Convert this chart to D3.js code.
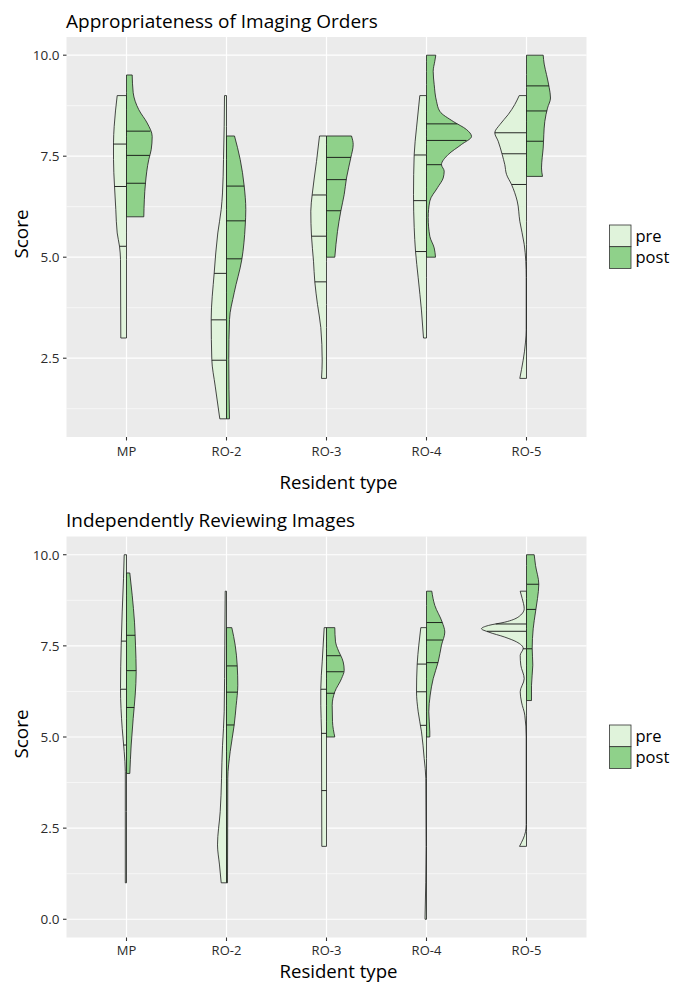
<!DOCTYPE html>
<html><head><meta charset="utf-8">
<script src="https://cdn.jsdelivr.net/npm/d3@7"></script>
<style>body{margin:0;background:#fff}svg{display:block}</style>
</head><body>
<svg id="chart" width="677" height="982"></svg>
<script>
// ---------------- DATA ----------------
const categories = ["MP", "RO-2", "RO-3", "RO-4", "RO-5"];
const groups = ["pre", "post"];
const panelTitles = ["Appropriateness of Imaging Orders", "Independently Reviewing Images"];
const xAxisTitle = "Resident type";
const yAxisTitle = "Score";
const yTicksOrders = [2.5, 5.0, 7.5, 10.0];
const yTicksReviewing = [0.0, 2.5, 5.0, 7.5, 10.0];
const yMinorTicks = [1.25, 3.75, 6.25, 8.75];

// violin half-profiles: [score, half-width as fraction of category spacing], one list per category
const ordersPre = [
  [[9.0,.093],[8.24,.123],[7.83,.13],[7.42,.13],[6.76,.12],[6.18,.107],[5.6,.093],[5.27,.07],[4.94,.06],[3.0,.057]],
  [[9.0,.02],[8.24,.023],[7.42,.03],[6.59,.04],[6.18,.053],[5.6,.087],[4.61,.123],[3.46,.153],[2.47,.147],[1.81,.113],[1.0,.067]],
  [[8.0,.07],[7.37,.10],[6.55,.143],[6.14,.157],[5.52,.15],[4.9,.13],[4.39,.117],[3.83,.09],[3.26,.057],[2.43,.043],[2.0,.05]],
  [[9.0,.067],[8.2,.10],[7.54,.123],[6.55,.13],[5.73,.123],[5.15,.11],[4.49,.083],[3.67,.05],[3.0,.03]],
  [[9.0,.073],[8.78,.117],[8.53,.183],[8.28,.267],[8.08,.317],[7.87,.283],[7.54,.243],[7.29,.217],[7.05,.20],[6.8,.15],[6.39,.093],[5.89,.067],[5.32,.023],[4.9,.007],[4.5,.003],[3.2,.003],[2.9,.01],[2.0,.067]]
];
const ordersPost = [
  [[9.51,.057],[9.07,.067],[8.65,.123],[8.32,.207],[7.99,.257],[7.66,.247],[7.42,.223],[6.84,.19],[6.0,.173]],
  [[8.0,.08],[7.42,.137],[6.76,.177],[6.18,.193],[5.77,.187],[4.94,.153],[4.12,.077],[3.46,.03],[2.47,.023],[1.0,.03]],
  [[8.0,.25],[7.79,.267],[7.46,.243],[6.96,.20],[6.55,.177],[6.14,.143],[5.64,.11],[5.0,.083]],
  [[10.0,.093],[9.85,.083],[9.6,.067],[9.27,.077],[8.86,.10],[8.61,.133],[8.36,.267],[8.16,.40],[7.99,.45],[7.79,.35],[7.54,.217],[7.29,.15],[7.13,.177],[6.96,.167],[6.72,.11],[6.39,.033],[5.98,.017],[5.52,.033],[5.23,.077],[5.0,.09]],
  [[10.0,.167],[9.78,.177],[9.52,.20],[9.2,.227],[8.94,.24],[8.69,.21],[8.36,.183],[8.03,.173],[7.7,.167],[7.46,.157],[7.21,.15],[7.0,.16]]
];
const ordersPreQuantiles = [[7.8,6.75,5.27],[4.6,3.45,2.45],[6.54,5.52,4.39],[7.53,6.4,5.14],[8.08,7.56,6.8]];
const ordersPostQuantiles = [[8.12,7.52,6.83],[6.76,5.9,4.96],[7.47,6.92,6.15],[8.3,7.89,7.29],[9.24,8.62,7.87]];

const reviewingPre = [
  [[10.0,.023],[9.34,.03],[8.43,.043],[7.52,.053],[6.33,.06],[5.24,.043],[4.6,.023],[4.05,.012],[2.95,.012],[1.0,.012]],
  [[9.0,.013],[7.52,.017],[5.69,.023],[4.76,.04],[2.95,.063],[2.04,.09],[1.49,.07],[1.0,.053]],
  [[8.0,.023],[7.06,.043],[6.33,.057],[5.87,.057],[5.14,.05],[2.0,.047]],
  [[8.0,.057],[7.52,.077],[7.0,.093],[6.24,.10],[5.69,.083],[5.14,.05],[4.41,.023],[3.87,.007],[2.0,.004],[0.0,.015]],
  [[9.0,.063],[8.8,.043],[8.52,.023],[8.29,.083],[8.15,.217],[8.06,.38],[7.97,.45],[7.88,.38],[7.74,.217],[7.61,.10],[7.43,.033],[7.24,.063],[6.97,.057],[6.6,.023],[6.24,.063],[5.96,.05],[5.6,.017],[5.0,.003],[2.6,.003],[2.4,.01],[2.0,.07]]
];
const reviewingPost = [
  [[9.5,.033],[8.89,.057],[8.15,.08],[7.52,.09],[6.79,.097],[6.15,.087],[5.51,.067],[4.78,.047],[4.0,.033]],
  [[8.0,.053],[7.52,.087],[6.97,.107],[6.42,.113],[5.87,.097],[5.33,.077],[4.6,.037],[3.87,.013],[1.0,.01]],
  [[8.0,.083],[7.61,.09],[7.43,.11],[7.06,.167],[6.83,.177],[6.6,.15],[6.24,.083],[5.87,.057],[5.42,.06],[5.0,.083]],
  [[9.0,.053],[8.61,.083],[8.15,.157],[7.88,.183],[7.52,.15],[7.06,.117],[6.6,.067],[6.15,.037],[5.69,.023],[5.14,.033],[5.0,.033]],
  [[10.0,.077],[9.71,.09],[9.19,.123],[8.8,.11],[8.43,.09],[7.97,.067],[7.43,.057],[6.97,.063],[6.42,.05],[6.0,.05]]
];
const reviewingPreQuantiles = [[7.63,6.31,4.78],[],[6.31,5.1,3.53],[7.0,6.24,5.32],[8.1,7.9,7.42]];
const reviewingPostQuantiles = [[7.79,6.82,5.81],[6.95,6.23,5.33],[7.23,6.79,6.2],[8.14,7.66,7.04],[9.19,8.5,7.42]];

const groupColors = ["#e0f3db", "#8fd18a"];

// ---------------- LAYOUT ----------------
const FONT = "'Open Sans', sans-serif";
const panelLeft = 66.5, panelRight = 586.5;
const panels = [
  { title: panelTitles[0], top: 37, bottom: 437, domain: [0.55, 10.45], ticks: yTicksOrders,
    pre: ordersPre, post: ordersPost, qPre: ordersPreQuantiles, qPost: ordersPostQuantiles,
    titleY: 28, titleW: 312, xTitleY: 488.5, tickLabY: 455.5, legendTop: 225, yTitleC: 234 },
  { title: panelTitles[1], top: 536.5, bottom: 937.5, domain: [-0.5, 10.5], ticks: yTicksReviewing,
    pre: reviewingPre, post: reviewingPost, qPre: reviewingPreQuantiles, qPost: reviewingPostQuantiles,
    titleY: 526.7, titleW: 289, xTitleY: 977.5, tickLabY: 955, legendTop: 725, yTitleC: 734 }
];

const svg = d3.select("#chart");
svg.append("rect").attr("width", 677).attr("height", 982).attr("fill", "#fff");

function fit(sel, target) {
  const w = sel.node().getComputedTextLength();
  const fs = parseFloat(sel.attr("font-size"));
  if (w > 0) sel.attr("font-size", (fs * target / w).toFixed(2));
  return sel;
}
function widthAt(profile, q) {
  for (let i = 0; i < profile.length - 1; i++) {
    const a = profile[i], b = profile[i + 1];
    if (q <= a[0] && q >= b[0]) {
      const t = (a[0] - q) / (a[0] - b[0]);
      return a[1] + t * (b[1] - a[1]);
    }
  }
  return 0;
}

const x = d3.scalePoint().domain(categories).range([panelLeft, panelRight]).padding(0.6);
const step = x.step();

panels.forEach(p => {
  const y = d3.scaleLinear().domain(p.domain).range([p.bottom, p.top]);
  const g = svg.append("g");

  g.append("rect").attr("x", panelLeft).attr("y", p.top)
    .attr("width", panelRight - panelLeft).attr("height", p.bottom - p.top).attr("fill", "#ebebeb");

  g.selectAll(".minor").data(yMinorTicks.filter(v => v > p.domain[0] && v < p.domain[1])).join("line")
    .attr("x1", panelLeft).attr("x2", panelRight).attr("y1", d => y(d)).attr("y2", d => y(d))
    .attr("stroke", "#fff").attr("stroke-width", 0.6);
  g.selectAll(".major").data(p.ticks).join("line")
    .attr("x1", panelLeft).attr("x2", panelRight).attr("y1", d => y(d)).attr("y2", d => y(d))
    .attr("stroke", "#fff").attr("stroke-width", 1.2);
  g.selectAll(".vmajor").data(categories).join("line")
    .attr("x1", d => x(d)).attr("x2", d => x(d)).attr("y1", p.top).attr("y2", p.bottom)
    .attr("stroke", "#fff").attr("stroke-width", 1.2);

  const sets = [
    { prof: p.pre, q: p.qPre, sign: -1, color: groupColors[0] },
    { prof: p.post, q: p.qPost, sign: 1, color: groupColors[1] }
  ];
  sets.forEach(s => {
    categories.forEach((c, i) => {
      const cx = x(c);
      const area = d3.area().curve(d3.curveMonotoneY)
        .y(d => y(d[0])).x0(cx).x1(d => cx + s.sign * d[1] * step);
      g.append("path").attr("d", area(s.prof[i]))
        .attr("fill", s.color).attr("stroke", "#1a1a1a").attr("stroke-width", 0.8)
        .attr("stroke-linejoin", "round");
      s.q[i].forEach(qv => {
        const w = widthAt(s.prof[i], qv) * step;
        g.append("line").attr("x1", cx).attr("x2", cx + s.sign * w)
          .attr("y1", y(qv)).attr("y2", y(qv))
          .attr("stroke", "#111").attr("stroke-width", 0.9);
      });
    });
  });

  p.ticks.forEach(t => {
    g.append("line").attr("x1", panelLeft - 3.5).attr("x2", panelLeft).attr("y1", y(t)).attr("y2", y(t))
      .attr("stroke", "#333").attr("stroke-width", 1.1);
    g.append("text").attr("x", panelLeft - 7).attr("y", y(t)).attr("dy", "0.36em")
      .attr("text-anchor", "end").attr("font-family", FONT).attr("font-size", 13.5)
      .attr("fill", "#2b2b2b").text(d3.format(".1f")(t));
  });
  categories.forEach(c => {
    g.append("line").attr("x1", x(c)).attr("x2", x(c)).attr("y1", p.bottom).attr("y2", p.bottom + 3.5)
      .attr("stroke", "#333").attr("stroke-width", 1.1);
    g.append("text").attr("x", x(c)).attr("y", p.tickLabY).attr("text-anchor", "middle")
      .attr("font-family", FONT).attr("font-size", 13).attr("fill", "#2b2b2b").text(c);
  });

  fit(g.append("text").attr("x", panelLeft - 0.5).attr("y", p.titleY)
    .attr("font-family", FONT).attr("font-size", 18).attr("fill", "#000").text(p.title), p.titleW);
  fit(g.append("text").attr("x", 338.5).attr("y", p.xTitleY).attr("text-anchor", "middle")
    .attr("font-family", FONT).attr("font-size", 17).attr("fill", "#000").text(xAxisTitle), 118);
  fit(g.append("text").attr("transform", `translate(28,${p.yTitleC}) rotate(-90)`)
    .attr("text-anchor", "middle").attr("font-family", FONT).attr("font-size", 17)
    .attr("fill", "#000").text(yAxisTitle), 49);

  groups.forEach((gr, k) => {
    const ky = p.legendTop + k * 21.7;
    g.append("rect").attr("x", 609.5).attr("y", ky).attr("width", 21.5).attr("height", 21.7)
      .attr("fill", groupColors[k]).attr("stroke", "#333").attr("stroke-width", 0.8);
    g.append("text").attr("x", 635.5).attr("y", ky + 10.85).attr("dy", "0.35em")
      .attr("font-family", FONT).attr("font-size", 16.5).attr("fill", "#000").text(gr);
  });
});
</script>
</body></html>
